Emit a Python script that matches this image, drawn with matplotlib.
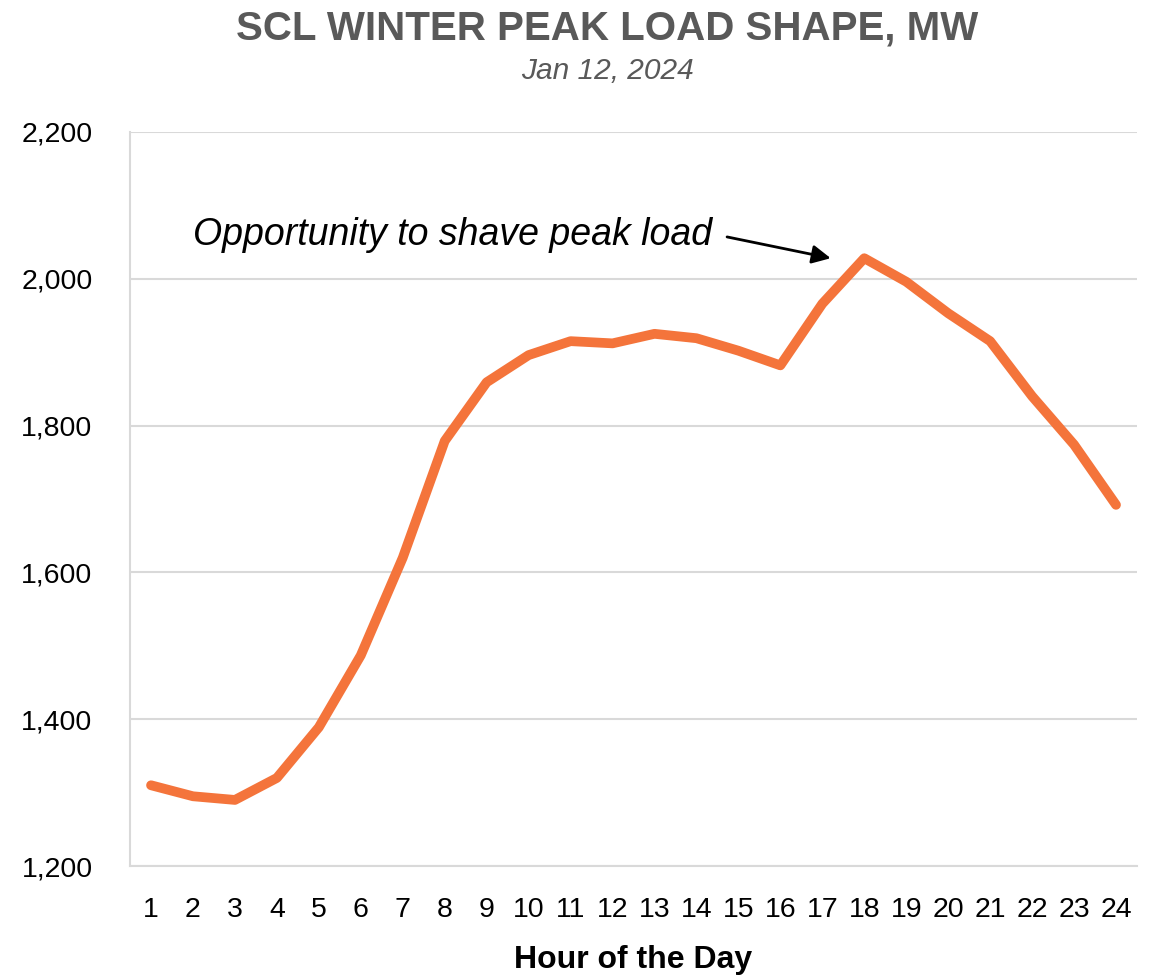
import matplotlib
matplotlib.use("Agg")
import matplotlib.pyplot as plt
from matplotlib.ticker import FuncFormatter

hours = list(range(1, 25))
load_mw = [1310, 1295, 1290, 1320, 1389, 1487, 1620, 1779, 1859, 1896, 1915, 1912,
           1925, 1919, 1902, 1882, 1966, 2028, 1996, 1953, 1915, 1840, 1774, 1692]
y_ticks = [1200, 1400, 1600, 1800, 2000, 2200]
title = "SCL WINTER PEAK LOAD SHAPE, MW"
subtitle = "Jan 12, 2024"
x_label = "Hour of the Day"
note = "Opportunity to shave peak load"

fam = "Liberation Sans"

fig = plt.figure(figsize=(11.57, 9.76), dpi=100)
ax = fig.add_axes([0.1124, 0.1127, 0.8703, 0.7521])

ax.plot(hours, load_mw, color="#F4743B", linewidth=7, solid_joinstyle="round",
        solid_capstyle="round", zorder=3)

ax.set_xlim(0.5, 24.5)
ax.set_ylim(1200, 2200)
ax.set_yticks(y_ticks)
ax.set_xticks(hours)
ax.yaxis.set_major_formatter(FuncFormatter(lambda v, p: f"{int(v):,}"))
ax.grid(axis="y", color="#D9D9D9", linewidth=1.5)
ax.set_axisbelow(True)
for s in ["top", "right"]:
    ax.spines[s].set_visible(False)
for s in ["left", "bottom"]:
    ax.spines[s].set_color("#D9D9D9")
    ax.spines[s].set_linewidth(1.5)
ax.tick_params(length=0, labelsize=20.5, colors="black")
for lab in ax.get_xticklabels() + ax.get_yticklabels():
    lab.set_fontfamily(fam)
ax.tick_params(axis="x", pad=22)
ax.tick_params(axis="y", pad=27)

ax.set_xlabel(x_label, fontsize=23, fontweight="bold", family=fam, labelpad=16)

fig.text(0.525, 0.971, title, ha="center", va="center", fontsize=29,
         fontweight="bold", color="#595959", family=fam)
fig.text(0.525, 0.927, subtitle, ha="center", va="center", fontsize=21.5,
         style="italic", color="#595959", family=fam)

ax.text(14.37, 2060, note, ha="right", va="center", fontsize=27,
        style="italic", family=fam)
ax.annotate("", xy=(17.2, 2028), xytext=(14.73, 2057), textcoords="data",
            arrowprops=dict(arrowstyle="-|>", color="black", lw=2.0,
                            mutation_scale=28, shrinkA=0, shrinkB=0))

fig.savefig("out.png", dpi=100, facecolor="white")
